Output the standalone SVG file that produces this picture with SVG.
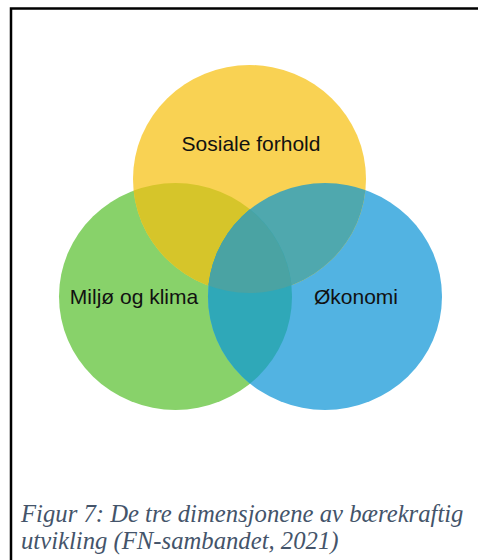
<svg xmlns="http://www.w3.org/2000/svg" width="481" height="560" viewBox="0 0 481 560">
<style>
.lbl{font-family:"Liberation Sans",Arial,sans-serif;font-size:21px;fill:#111;text-anchor:middle}
.cap{font-family:"Liberation Serif","Times New Roman",serif;font-style:italic;font-size:24.7px;fill:#44546A}
</style>
<defs>
<clipPath id="cY"><ellipse cx="249.5" cy="179" rx="116.5" ry="114"/></clipPath>
<clipPath id="cG"><ellipse cx="175.5" cy="296.5" rx="116.5" ry="113.5"/></clipPath>
<clipPath id="cB"><ellipse cx="325" cy="296.5" rx="117" ry="113.5"/></clipPath>
</defs>
<rect width="481" height="560" fill="#fff"/>
<path d="M11,560 V8.5 H478" fill="none" stroke="#000" stroke-width="2.5"/>
<g id="node-miljo">
<ellipse cx="175.5" cy="296.5" rx="116.5" ry="113.5" fill="#88D26A"/>
<text class="lbl" x="134" y="304">Miljø og klima</text>
</g>
<g id="node-okonomi">
<ellipse cx="325" cy="296.5" rx="117" ry="113.5" fill="#52B3E2"/>
<text class="lbl" x="356" y="304">Økonomi</text>
</g>
<g id="node-sosiale">
<ellipse cx="249.5" cy="179" rx="116.5" ry="114" fill="#F9D253"/>
<text class="lbl" x="251" y="151">Sosiale forhold</text>
</g>
<g id="overlaps">
<ellipse cx="175.5" cy="296.5" rx="116.5" ry="113.5" fill="#D6C52A" clip-path="url(#cY)"/>
<ellipse cx="325" cy="296.5" rx="117" ry="113.5" fill="#4FA8AE" clip-path="url(#cY)"/>
<ellipse cx="325" cy="296.5" rx="117" ry="113.5" fill="#2FA8B8" clip-path="url(#cG)"/>
<g clip-path="url(#cY)">
<ellipse cx="325" cy="296.5" rx="117" ry="113.5" fill="#4AA3A3" clip-path="url(#cG)"/>
</g>
</g>
<text class="cap" x="21" y="522">Figur 7: De tre dimensjonene av bærekraftig</text>
<text class="cap" x="21" y="549">utvikling (FN-sambandet, 2021)</text>
</svg>
